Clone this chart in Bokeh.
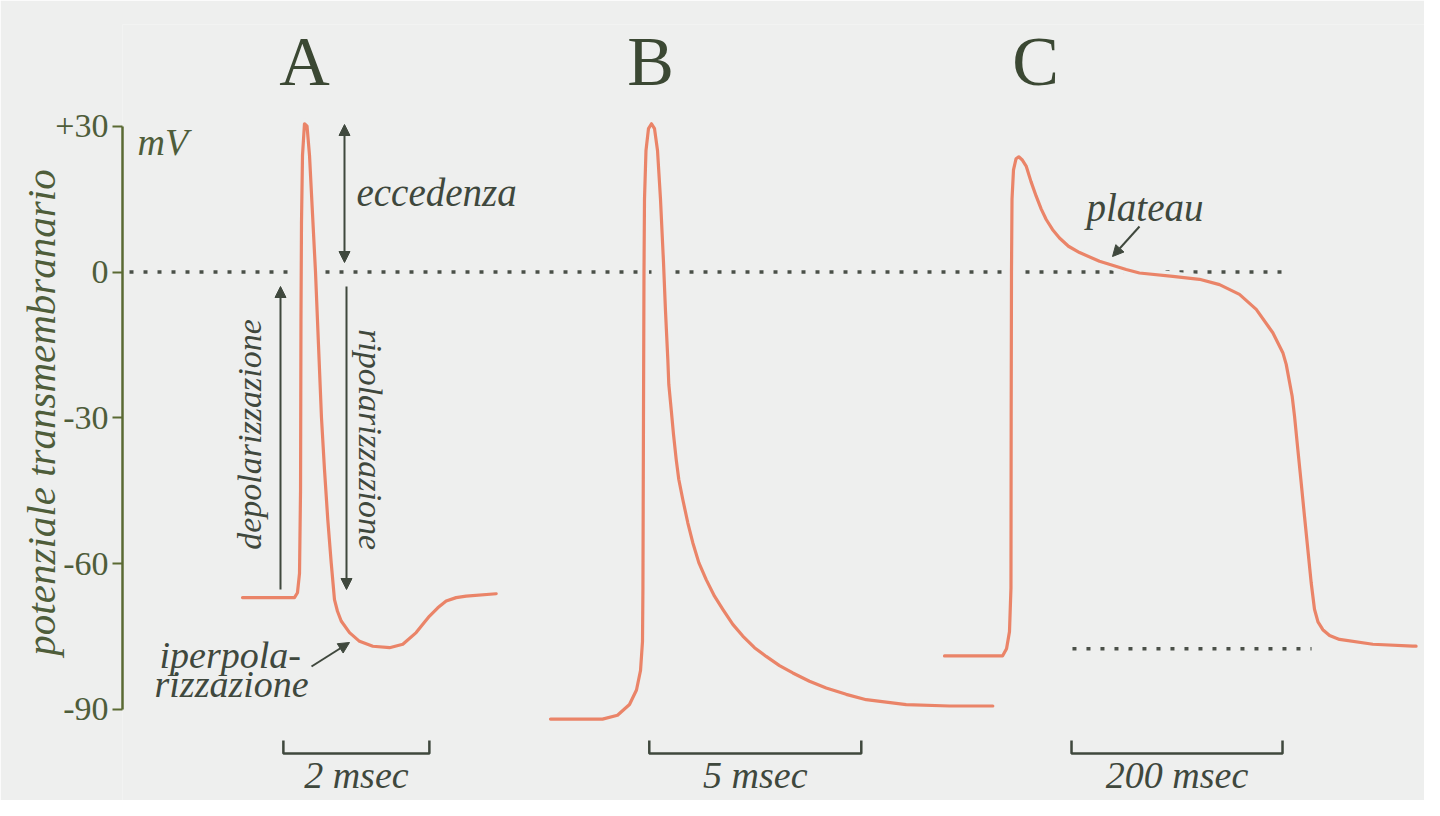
import math
from bokeh.plotting import figure
from bokeh.models import Range1d, FixedTicker, Arrow, NormalHead
from bokeh.core.properties import value
from bokeh.embed import file_html
from bokeh.resources import INLINE

# ---------------- data (time in ms, potential in mV) ----------------
A_T_MS = [0.000, 0.712, 0.753, 0.781, 0.795, 0.801, 0.808, 0.822, 0.849, 0.884, 0.918, 0.959,
          1.000, 1.041, 1.082, 1.123, 1.168, 1.215, 1.260, 1.301, 1.352, 1.466, 1.603, 1.785,
          2.014, 2.196, 2.379, 2.470, 2.562, 2.675, 2.790, 2.927, 3.064, 3.475]
A_MV = [-67.0, -67.0, -66.0, -62.0, -45.0, -10.0, 10.0, 24.0, 30.5, 30.0, 24.0, 12.0,
        0.0, -15.0, -30.0, -40.6, -50.9, -59.8, -67.4, -69.8, -71.8, -74.2, -76.0, -77.0,
        -77.3, -76.6, -74.2, -72.5, -70.8, -69.1, -67.7, -67.0, -66.7, -66.2]

B_T_MS = [0.000, 1.226, 1.580, 1.863, 2.028, 2.123, 2.170, 2.180, 2.193, 2.205, 2.217, 2.252,
          2.311, 2.382, 2.453, 2.524, 2.594, 2.665, 2.712, 2.767, 2.790, 2.847, 2.901, 2.965,
          3.026, 3.120, 3.238, 3.356, 3.498, 3.672, 3.868, 4.064, 4.300, 4.535, 4.811, 5.087,
          5.401, 5.715, 6.108, 6.502, 6.974, 7.446, 8.389, 9.410, 10.432]
B_MV = [-92.0, -92.0, -91.2, -89.0, -86.0, -82.0, -76.0, -65.0, -30.0, 0.0, 15.0, 25.0,
        29.5, 30.5, 29.5, 25.0, 15.0, 2.0, -8.0, -18.0, -23.1, -28.3, -33.4, -38.6,
        -42.7, -46.8, -51.6, -55.7, -59.8, -63.3, -66.7, -69.4, -72.5, -74.9, -77.3, -79.1,
        -81.0, -82.5, -84.2, -85.6, -86.9, -88.0, -89.0, -89.3, -89.3]

C_T_MS = [0, 55, 58.8, 61.6, 63.0, 63.2, 63.5, 64.0, 65.4, 67.8, 70.4, 73.5, 77.4, 82.0,
          86.9, 91.6, 96.4, 102.5, 109, 117.5, 128, 146.9, 172.2, 184.8, 216.4, 241.7, 260.7,
          279.6, 295.5, 311.2, 320.7, 323.9, 329.5, 331.8, 334.9, 338.1, 341.2, 344.4, 347.6,
          350.7, 354.0, 358.6, 365.0, 374.4, 406.0, 443.9, 447.0]
C_MV = [-79.0, -79.0, -77.5, -74.0, -65.0, -30.0, 0.0, 15.0, 21.0, 23.3, 23.7, 23.1, 21.8, 18.6,
        15.6, 13.0, 10.8, 8.7, 7.0, 5.3, 4.0, 2.2, 0.5, -0.2, -0.9, -1.5, -2.6,
        -4.6, -7.7, -12.5, -16.6, -19.0, -25.5, -29.7, -36.5, -43.4, -50.2, -57.1, -64.0,
        -69.4, -72.0, -73.6, -74.8, -75.6, -76.6, -77.0, -77.0]

Y_TICKS = [-90, -60, -30, 0, 30]
Y_TICK_LABELS = {30: "+30", 0: "0", -30: "-30", -60: "-60", -90: "-90"}
PANEL_NAMES = ["A", "B", "C"]
SCALE_MS = [2, 5, 200]
SCALE_LABELS = ["2 msec", "5 msec", "200 msec"]
ZERO_MV = 0.0
REST_C_MV = -77.5
REST_C_SPAN_MS = [121.3, 347.9]

# ---------------- layout / style ----------------
BG = "#eeefee"
TRACE = "#ea8468"
INK = "#3f483d"
AXIS = "#5a6a33"
LABEL_GREEN = "#4e5d3a"
DOT_COLOR = "#4a5048"
SERIF = value("Liberation Serif")

W, H = 1424, 800
PAGE_X = 1            # observed left of the figure in the screenshot
PAGE_Y = 1            # observed top of the figure in the screenshot
FRAME_LEFT_PAGE = 123
FRAME_TOP_PAGE = PAGE_Y + 24
FRAME_RIGHT_PAGE = PAGE_X + W
FRAME_BOTTOM_PAGE = PAGE_Y + H
Y0_PAGE = 272.5      # page y of 0 mV
PX_PER_MV = 4.86
BASELINE_FIX = 0.32  # em offset of Bokeh's text box bottom below the alphabetic baseline

def mv_at(page_y):
    return (Y0_PAGE - page_y) / PX_PER_MV

# panel placement: page x of t=0 and px per ms
PANEL_X0 = {"A": 243.0, "B": 551.0, "C": 945.0}
PANEL_K = {"A": 73.0, "B": 42.4, "C": 1.055}
SCALE_T0 = {"A": 0.56, "B": 2.33, "C": 120.4}
LETTER_X = {"A": 305, "B": 651, "C": 1036}

p = figure(width=W, height=H, output_backend="svg", toolbar_location=None,
           x_axis_location=None,
           x_range=Range1d(FRAME_LEFT_PAGE, FRAME_RIGHT_PAGE),
           y_range=Range1d(mv_at(FRAME_BOTTOM_PAGE), mv_at(FRAME_TOP_PAGE)),
           min_border_left=FRAME_LEFT_PAGE - PAGE_X, min_border_right=0,
           min_border_top=24, min_border_bottom=0)
p.background_fill_color = BG
p.border_fill_color = BG
p.outline_line_color = None
p.grid.visible = False

for name in PANEL_NAMES:
    x0, k = PANEL_X0[name], PANEL_K[name]
    p.extra_x_ranges[name] = Range1d((FRAME_LEFT_PAGE - x0) / k, (FRAME_RIGHT_PAGE - x0) / k)

# y axis
ax = p.yaxis[0]
ax.ticker = FixedTicker(ticks=Y_TICKS)
ax.major_label_overrides = Y_TICK_LABELS
ax.bounds = (min(Y_TICKS), max(Y_TICKS))
ax.minor_tick_line_color = None
ax.major_tick_in = 0
ax.major_tick_out = 10
ax.major_tick_line_width = 2
ax.major_tick_line_color = AXIS
ax.axis_line_color = AXIS
ax.axis_line_width = 2.5
ax.major_label_standoff = 4
ax.major_label_text_font = "Liberation Serif"
ax.major_label_text_font_size = "34px"
ax.major_label_text_color = LABEL_GREEN
ax.axis_label = "potenziale transmembranario"
ax.axis_label_text_font = "Liberation Serif"
ax.axis_label_text_font_style = "italic"
ax.axis_label_text_font_size = "41px"
ax.axis_label_text_color = LABEL_GREEN
ax.axis_label_standoff = -12

DOTS = "4 10"
p.line([130, 1283], [ZERO_MV, ZERO_MV], line_color=DOT_COLOR, line_width=3.5, line_dash=DOTS)
p.line(REST_C_SPAN_MS, [REST_C_MV, REST_C_MV], x_range_name="C", line_color=DOT_COLOR,
       line_width=3.5, line_dash=DOTS)

traces = {"A": (A_T_MS, A_MV), "B": (B_T_MS, B_MV), "C": (C_T_MS, C_MV)}
for name in PANEL_NAMES:
    t, v = traces[name]
    p.line(t, v, x_range_name=name, line_color=BG, line_width=10, line_join="round")
for name in PANEL_NAMES:
    t, v = traces[name]
    p.line(t, v, x_range_name=name, line_color=TRACE, line_width=3.2, line_join="round",
           line_cap="round")

def txt(x, page_y, s, size, angle=0.0, align="left", baseline="alphabetic", color=INK,
        style="italic", x_range_name="default"):
    y = page_y - (BASELINE_FIX * size if baseline == "alphabetic" else 0.0)
    p.text(x=[x], y=[mv_at(y)], text=[s], text_font=SERIF, text_font_style=style,
           text_font_size=f"{size}px", text_color=color, text_align=align,
           text_baseline=baseline, angle=angle, x_range_name=x_range_name)

# scale bars
bar_y, tick_y = mv_at(754), mv_at(741)
for name, L, lab in zip(PANEL_NAMES, SCALE_MS, SCALE_LABELS):
    t0 = SCALE_T0[name]
    p.line([t0, t0, t0 + L, t0 + L], [tick_y, bar_y, bar_y, tick_y], x_range_name=name,
           line_color=INK, line_width=2.5)
    txt(t0 + L / 2, 788, lab, 38, align="center", x_range_name=name)

# panel letters
for name in PANEL_NAMES:
    txt(LETTER_X[name], 84, name, 70, align="center", color="#3b4833", style="normal")

# annotations
txt(138, 155, "mV", 38, color=LABEL_GREEN)
txt(357, 205, "eccedenza", 39)
txt(250, 435, "depolarizzazione", 34, angle=math.pi / 2, align="center", baseline="middle")
txt(371, 440, "ripolarizzazione", 34, angle=-math.pi / 2, align="center", baseline="middle")
txt(160, 668, "iperpola-", 38)
txt(155, 697, "rizzazione", 38)
txt(1087, 220, "plateau", 39)

def arrow(x1, y1, x2, y2, both=False):
    head = lambda: NormalHead(size=11, fill_color=INK, line_color=INK, line_width=1)
    p.add_layout(Arrow(start=head() if both else None, end=head(),
                       x_start=x1, y_start=mv_at(y1), x_end=x2, y_end=mv_at(y2),
                       line_color=INK, line_width=2))

arrow(345, 263, 345, 125, both=True)    # eccedenza
arrow(281, 590, 281, 287)               # depolarizzazione
arrow(347, 287, 347, 590)               # ripolarizzazione
arrow(312, 667, 350, 643)               # iperpolarizzazione
arrow(1140, 227, 1113, 257)             # plateau

open("out.html", "w").write(file_html(p, INLINE))
